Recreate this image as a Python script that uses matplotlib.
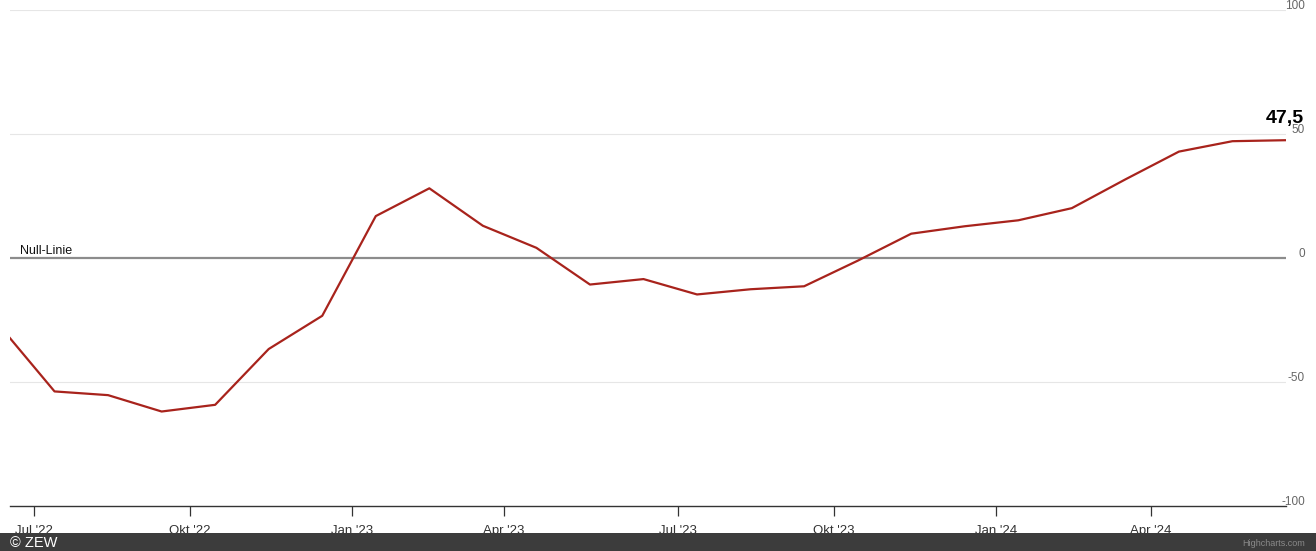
import matplotlib.pyplot as plt
from matplotlib.patches import Rectangle
from matplotlib.transforms import blended_transform_factory

# ZEW Konjunkturerwartungen, monatlich Jun 2022 - Jun 2024
months = ["Jun 22", "Jul 22", "Aug 22", "Sep 22", "Okt 22", "Nov 22", "Dez 22",
          "Jan 23", "Feb 23", "Mär 23", "Apr 23", "Mai 23", "Jun 23", "Jul 23",
          "Aug 23", "Sep 23", "Okt 23", "Nov 23", "Dez 23",
          "Jan 24", "Feb 24", "Mär 24", "Apr 24", "Mai 24", "Jun 24"]
values = [-28.0, -53.8, -55.3, -61.9, -59.2, -36.7, -23.3,
          16.9, 28.1, 13.0, 4.1, -10.7, -8.5, -14.7,
          -12.6, -11.4, -1.1, 9.8, 12.8,
          15.2, 20.1, 31.7, 42.9, 47.1, 47.5]
tick_labels = ["Jul '22", "Okt '22", "Jan '23", "Apr '23",
               "Jul '23", "Okt '23", "Jan '24", "Apr '24"]
tick_pos = [0.622, 3.525, 6.555, 9.389, 12.641, 15.557, 18.593, 21.471]
y_ticks = [100, 50, 0, -50, -100]

plt.rcParams['font.family'] = ['Liberation Sans', 'DejaVu Sans']

W, H = 1316, 551
fig = plt.figure(figsize=(W / 100, H / 100), dpi=100)
ax = fig.add_axes([10 / W, (H - 506) / H, 1276 / W, 496 / H])

x = list(range(len(values)))
ax.plot(x, values, color='#a8231c', linewidth=1.6, zorder=5, clip_on=True)

ax.set_xlim(9 / 53.5, len(values) - 1)
ax.set_ylim(-100, 100)

# Gitterlinien
for yv in [100, 50, -50]:
    ax.axhline(yv, color='#e6e6e6', linewidth=0.8, zorder=1)
ax.axhline(0, color='#8c8c8c', linewidth=1.6, zorder=2)
ax.text(0.008, 0.6, "Null-Linie", transform=blended_transform_factory(ax.transAxes, ax.transData),
        fontsize=9, color='#111111', va='bottom', ha='left')

for s in ['top', 'right', 'left']:
    ax.spines[s].set_visible(False)
ax.spines['bottom'].set_color('#333333')
ax.spines['bottom'].set_linewidth(1.0)

ax.set_yticks([])
ax.set_xticks(tick_pos)
ax.set_xticklabels(tick_labels, fontsize=9.5, color='#333333')
ax.tick_params(axis='x', length=7, width=0.9, color='#333333', pad=7)

# y-Beschriftungen rechts oberhalb der Linien
tr = blended_transform_factory(fig.transFigure, ax.transData)
for yv in y_ticks:
    ax.text(1305 / W, yv - 0.8, str(yv), transform=tr, fontsize=8.5, color='#666666',
            ha='right', va='bottom', clip_on=False)

# letzter Wert
ax.text(1304 / W, values[-1] + 5.2, f"{values[-1]:.1f}".replace('.', ','), transform=tr,
        fontsize=14, fontweight='bold', color='#000000', ha='right', va='bottom')

# Fußzeile
fig.patches.append(Rectangle((0, 0), 1, 18 / H, transform=fig.transFigure,
                             facecolor='#3c3c3c', edgecolor='none', zorder=10))
fig.text(10 / W, 8 / H, "© ZEW", color='white', fontsize=10.5, va='center', ha='left', zorder=11)
fig.text(1305 / W, 8 / H, "Highcharts.com", color='#8a8a8a', fontsize=6.5, va='center',
         ha='right', zorder=11)

fig.savefig("out.png", dpi=100)
